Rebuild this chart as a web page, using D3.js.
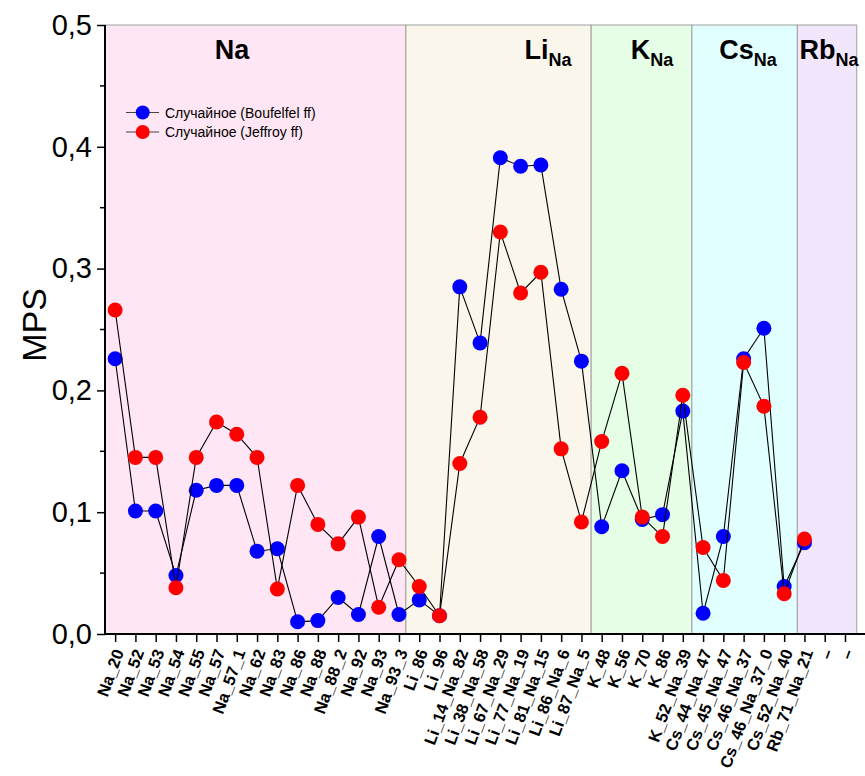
<!DOCTYPE html>
<html><head><meta charset="utf-8">
<script src="https://cdn.jsdelivr.net/npm/d3@7"></script>
<style>
html,body{margin:0;padding:0;background:#fff;}
svg{display:block;font-family:"Liberation Sans",Arial,sans-serif;}
</style></head>
<body><svg id="chart" width="865" height="776"></svg>
<script>
const categories = ["Na_20","Na_52","Na_53","Na_54","Na_55","Na_57","Na_57_1","Na_62","Na_83","Na_86","Na_88","Na_88_2","Na_92","Na_93","Na_93_3",
 "Li_86","Li_96","Li_14_Na_82","Li_38_Na_58","Li_67_Na_29","Li_77_Na_19","Li_81_Na_15","Li_86_Na_6","Li_87_Na_5",
 "K_48","K_56","K_70","K_86","K_52_Na_39",
 "Cs_44_Na_47","Cs_45_Na_47","Cs_46_Na_37","Cs_46_Na_37_0","Cs_52_Na_40",
 "Rb_71_Na_21","–1","–2","–3"];
const tickLabels = categories.map(c => c.startsWith("–") ? "–" : c);

const boufelfel = [0.226,0.101,0.101,0.048,0.118,0.122,0.122,0.068,0.070,0.010,0.011,0.030,0.016,0.080,0.016,
 0.028,0.015,0.285,0.239,0.391,0.384,0.385,0.283,0.224,
 0.088,0.134,0.094,0.098,0.183,
 0.017,0.080,0.226,0.251,0.039,
 0.075];
const jeffroy = [0.266,0.145,0.145,0.038,0.145,0.174,0.164,0.145,0.037,0.122,0.090,0.074,0.096,0.022,0.061,
 0.039,0.015,0.140,0.178,0.330,0.280,0.297,0.152,0.092,
 0.158,0.214,0.096,0.080,0.196,
 0.071,0.044,0.223,0.187,0.033,
 0.078];

// band extents in category-index units
const bandNames = ["Na","Li","K","Cs","Rb"];
const bandSubs  = ["","Na","Na","Na","Na"];
const bandStart = [-0.5,14.34,23.48,28.45,33.65];
const bandEnd   = [14.34,23.48,28.45,33.65,36.58];
const bandColors = ["#ffe6f4","#faf6ec","#e6fde6","#e2ffff","#f2e6fd"];
const bandLabelX = [232,548,652,748,829];

const yTicks = [0,0.1,0.2,0.3,0.4,0.5];
const seriesNames = ["Случайное (Boufelfel ff)","Случайное (Jeffroy ff)"];
const seriesColors = ["#0000ff","#ff0000"];

(function(){
const svg = d3.select("#chart");
const pL = 105, pR = 875.4, pT = 25, pB = 634;

const x = d3.scalePoint().domain(categories).range([pL, pR]).padding(0.5);
const xi = d3.scaleLinear().domain([0,1]).range([x(categories[0]), x(categories[0]) + x.step()]);
const y = d3.scaleLinear().domain([0,0.5]).range([pB, pT]);

// bands
const bands = bandNames.map((n,i)=>({n, s:bandSubs[i], a:bandStart[i], b:bandEnd[i], c:bandColors[i], lx:bandLabelX[i]}));
svg.append("g").selectAll("rect").data(bands).join("rect")
  .attr("x", d => xi(d.a)).attr("width", d => xi(d.b) - xi(d.a))
  .attr("y", y(0.5)).attr("height", y(0) - y(0.5))
  .attr("fill", d => d.c).attr("stroke", "#a0a0a0").attr("stroke-width", 1);

const bl = svg.append("g").selectAll("text").data(bands).join("text")
  .attr("x", d => d.lx).attr("y", 59)
  .attr("text-anchor","middle").attr("font-weight","bold").attr("font-size", 27);
bl.append("tspan").text(d => d.n);
bl.append("tspan").attr("font-size", 18).attr("dy", 7).text(d => d.s);

// series
const sers = [boufelfel, jeffroy];
const line = d3.line().x((d,i)=>x(categories[i])).y(d=>y(d));
sers.forEach((vals, si) => {
  const g = svg.append("g");
  g.append("path").datum(vals).attr("d", line).attr("fill","none").attr("stroke","#000").attr("stroke-width",1.1);
  g.selectAll("circle").data(vals).join("circle")
    .attr("cx",(d,i)=>x(categories[i])).attr("cy",d=>y(d)).attr("r",7.5)
    .attr("fill", seriesColors[si]);
});

// y axis
const yAxis = d3.axisLeft(y).tickValues(yTicks).tickSize(8).tickPadding(5)
  .tickFormat(d => d3.format(".1f")(d).replace(".", ","));
const ya = svg.append("g").attr("transform", `translate(${pL},0)`).call(yAxis);
ya.select(".domain").attr("stroke-width",2).attr("d", `M0,${pB+1}V${pT}`);
ya.selectAll(".tick line").attr("stroke-width",1.5);
ya.selectAll("text").attr("font-size",29).attr("font-family","Liberation Sans, Arial, sans-serif").attr("fill","#000");
const yMinor = d3.range(0.05, 0.5, 0.1);
svg.append("g").selectAll("line").data(yMinor).join("line")
  .attr("x1", pL-5).attr("x2", pL).attr("y1", d=>y(d)).attr("y2", d=>y(d))
  .attr("stroke","#000").attr("stroke-width",1.5);

svg.append("text").attr("transform", `translate(46,325) rotate(-90)`)
  .attr("text-anchor","middle").attr("font-size",34).text("MPS");

// x axis
const xAxis = d3.axisBottom(x).tickSize(8).tickFormat((d,i)=>tickLabels[i]);
const xa = svg.append("g").attr("transform", `translate(0,${pB})`).call(xAxis);
xa.select(".domain").attr("stroke-width",2).attr("d", `M${pL-1},0H${pR}`);
xa.selectAll(".tick line").attr("stroke-width",1.5);
xa.selectAll(".tick text")
  .attr("font-size",16.5).attr("font-weight","bold").attr("fill","#000")
  .attr("font-family","Liberation Sans, Arial, sans-serif")
  .attr("text-anchor","end").attr("y",0).attr("dy","0.35em")
  .attr("transform","translate(3,16) rotate(-70)");

// legend
const lg = svg.append("g");
seriesNames.forEach((n,i) => {
  const ly = 112.5 + i*19.5;
  lg.append("line").attr("x1",126).attr("x2",159).attr("y1",ly).attr("y2",ly).attr("stroke","#444").attr("stroke-width",1.2);
  lg.append("circle").attr("cx",142.7).attr("cy",ly).attr("r",7).attr("fill",seriesColors[i]);
  lg.append("text").attr("x",165).attr("y",ly+5).attr("font-size",14).text(n);
});
})();
</script></body></html>
